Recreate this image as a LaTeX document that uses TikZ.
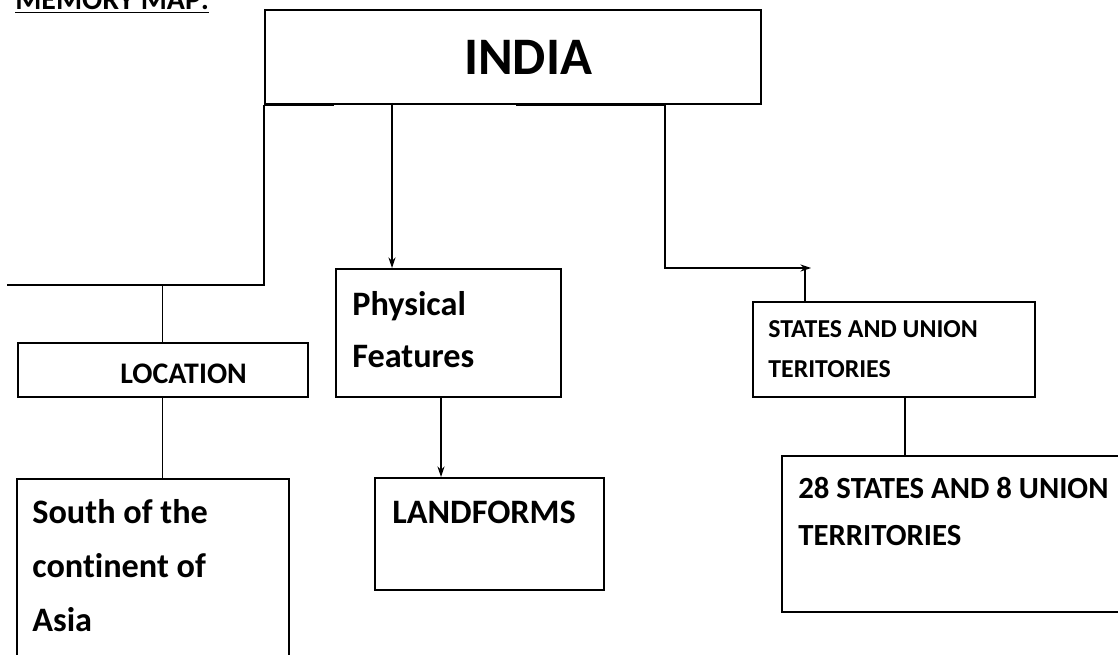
\documentclass[tikz,border=0pt]{standalone}
\usepackage{fontspec}
\setmainfont[Ligatures=NoCommon]{Carlito}
\usetikzlibrary{arrows.meta}
\begin{document}
\begin{tikzpicture}[x=0.02cm,y=-0.02cm,>={Stealth[length=6pt,width=4pt]},
box/.style = {draw, line width=1pt, inner sep=0pt, anchor=north west},
txt/.style = {font=\bfseries\fontsize{19.5}{29.5}\selectfont, align=left, anchor=base west, inner sep=0pt},
small/.style = {font=\bfseries\fontsize{14.7}{22.7}\selectfont, align=left, anchor=base west, inner sep=0pt},
link/.style = {line width=0.7pt},
]
\useasboundingbox (0,0) rectangle (1118,655);
\clip (0,0) rectangle (1118,655);
% title
\node (mm) at (15,10)[txt,font=\bfseries\fontsize{17}{20}\selectfont] {\underline{MEMORY MAP:}};
% boxes
\node (india) at (264,9)[box,minimum width=9.92cm,minimum height=1.88cm] {};
\node (loc) at (17,342)[box,minimum width=5.8cm,minimum height=1.08cm] {};
\node (south) at (16,478)[box,minimum width=5.44cm,minimum height=4.44cm] {};
\node (phys) at (335,268)[box,minimum width=4.5cm,minimum height=2.56cm] {};
\node (land) at (374,477)[box,minimum width=4.58cm,minimum height=2.24cm] {};
\node (states) at (752,301)[box,minimum width=5.64cm,minimum height=1.9cm] {};
\node (num) at (781,455)[box,minimum width=8cm,minimum height=3.12cm] {};
% texts (anchored on the baseline of their last line)
\node (tindia) at (528,57)[font=\bfseries\fontsize{30}{36}\selectfont] {INDIA};
\node (tloc) at (120,383)[txt,font=\bfseries\fontsize{17}{22}\selectfont] {LOCATION};
\node (tsouth) at (32,631)[txt,font=\bfseries\fontsize{19.5}{30.6}\selectfont] {South of the\\continent of\\Asia};
\node (tphys) at (352,367)[txt] {Physical\\Features};
\node (tland) at (392,523)[txt] {LANDFORMS};
\node (tstates) at (768,377)[small] {STATES AND UNION\\TERITORIES};
\node (tnum) at (798,545)[txt,font=\bfseries\fontsize{17.5}{26.6}\selectfont] {28 STATES AND 8 UNION\\TERRITORIES};
% corners
\coordinate (lend) at (7,285);
\coordinate (p1) at (392,103);
\coordinate (p2) at (441,396);
\coordinate (rknee) at (665,268);
\coordinate (rtip) at (811,268);
\coordinate (rdrop) at (805,268);
\coordinate (sdrop) at (905,396);
\coordinate (hb) at (516,0);
% connectors
\draw[link] (india.south west) |- (lend);
\draw[link] (loc.north |- lend) -- (loc.north);
\draw[link] (loc.south) -- (loc.south |- south.north);
\draw[link,->] (p1) -- (p1 |- phys.north);
\draw[link,->] (p2) -- (p2 |- land.north);
\draw[link,->] (rknee |- india.south) -- (rknee) -- (rtip);
\draw[link] (rdrop) -- (rdrop |- states.north);
\draw[link] (sdrop) -- (sdrop |- num.north);
% heavier bits on the base of the title box
\draw[line width=1.8pt] (india.south west) -- +(70,0);
\draw[line width=1.8pt] (hb |- india.south) -- (rknee |- india.south);
\end{tikzpicture}
\end{document}
